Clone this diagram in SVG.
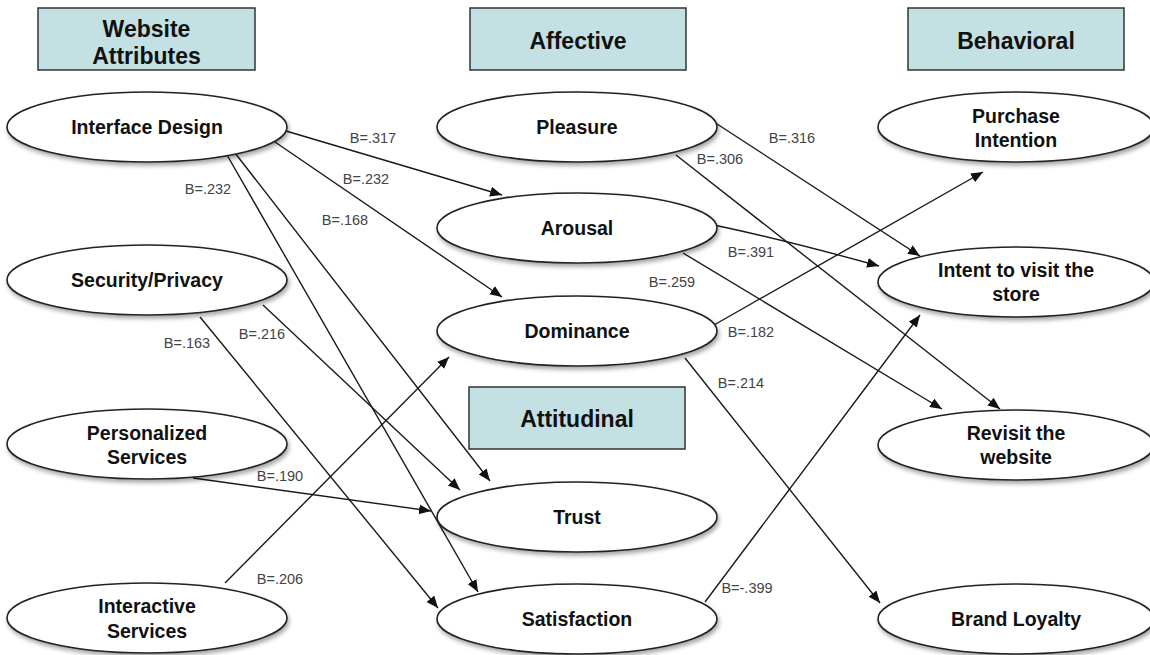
<svg xmlns="http://www.w3.org/2000/svg" width="1150" height="655" viewBox="0 0 1150 655">
<defs>
<filter id="sh" x="-10%" y="-20%" width="120%" height="150%">
<feDropShadow dx="1.5" dy="3" stdDeviation="2" flood-color="#000" flood-opacity="0.35"/>
</filter>
<marker id="arr" markerUnits="userSpaceOnUse" markerWidth="14" markerHeight="12" refX="12" refY="5" orient="auto">
<path d="M0,0 L12,5 L0,10 Z" fill="#111"/>
</marker>
<style>
.hdr{fill:#c3e0e3;stroke:#333;stroke-width:1.5}
.hdt{font-family:"Liberation Sans",Arial,sans-serif;font-weight:bold;font-size:23px;fill:#111;text-anchor:middle}
.el{fill:#fff;stroke:#222;stroke-width:1.6;filter:url(#sh)}
.nt{font-family:"Liberation Sans",Arial,sans-serif;font-weight:bold;font-size:19.5px;fill:#111;text-anchor:middle}
.cn{fill:none;stroke:#1a1a1a;stroke-width:1.4;marker-end:url(#arr)}
.lb{font-family:"Liberation Sans",Arial,sans-serif;font-size:14.5px;fill:#444;text-anchor:middle}
</style>
</defs>
<rect width="1150" height="655" fill="#fff"/>

<g id="hdr-website">
<rect class="hdr" x="38" y="8" width="217" height="62"/>
<text class="hdt" x="146.5" y="37">Website</text>
<text class="hdt" x="146.5" y="64">Attributes</text>
</g>
<g id="hdr-affective">
<rect class="hdr" x="470" y="8" width="216" height="62"/>
<text class="hdt" x="578" y="49">Affective</text>
</g>
<g id="hdr-behavioral">
<rect class="hdr" x="908" y="8" width="216" height="62"/>
<text class="hdt" x="1016" y="49">Behavioral</text>
</g>
<g id="hdr-attitudinal">
<rect class="hdr" x="469" y="387" width="216" height="62"/>
<text class="hdt" x="577" y="427">Attitudinal</text>
</g>

<g id="connectors">
<line class="cn" x1="286" y1="131" x2="502" y2="195"/>
<line class="cn" x1="275" y1="142" x2="502" y2="297"/>
<line class="cn" x1="235" y1="153" x2="490" y2="481"/>
<line class="cn" x1="227" y1="155" x2="478" y2="592"/>
<line class="cn" x1="263" y1="305" x2="460" y2="490"/>
<line class="cn" x1="200" y1="317" x2="438" y2="608"/>
<line class="cn" x1="193" y1="478" x2="431" y2="511"/>
<line class="cn" x1="225" y1="583" x2="449" y2="357"/>
<line class="cn" x1="714" y1="122" x2="920" y2="256"/>
<line class="cn" x1="676" y1="155" x2="1000" y2="409"/>
<path class="cn" d="M714,225 Q785,240 879,266"/>
<line class="cn" x1="683" y1="253" x2="942" y2="409"/>
<line class="cn" x1="714" y1="325" x2="983" y2="172"/>
<line class="cn" x1="685" y1="358" x2="880" y2="603"/>
<line class="cn" x1="705" y1="602" x2="920" y2="315"/>
<text class="lb" x="373" y="143">B=.317</text>
<text class="lb" x="366" y="184">B=.232</text>
<text class="lb" x="345" y="225">B=.168</text>
<text class="lb" x="208" y="194">B=.232</text>
<text class="lb" x="262" y="339">B=.216</text>
<text class="lb" x="187" y="348">B=.163</text>
<text class="lb" x="280" y="481">B=.190</text>
<text class="lb" x="280" y="584">B=.206</text>
<text class="lb" x="792" y="143">B=.316</text>
<text class="lb" x="720" y="164">B=.306</text>
<text class="lb" x="751" y="257">B=.391</text>
<text class="lb" x="672" y="287">B=.259</text>
<text class="lb" x="751" y="337">B=.182</text>
<text class="lb" x="741" y="388">B=.214</text>
<text class="lb" x="747" y="593">B=-.399</text>
</g>

<g id="n-interface">
<ellipse class="el" cx="147" cy="127" rx="140" ry="35"/>
<text class="nt" x="147" y="134">Interface Design</text>
</g>
<g id="n-security">
<ellipse class="el" cx="147" cy="280" rx="140" ry="35"/>
<text class="nt" x="147" y="287">Security/Privacy</text>
</g>
<g id="n-personalized">
<ellipse class="el" cx="147" cy="444" rx="140" ry="35"/>
<text class="nt" x="147" y="440">Personalized</text>
<text class="nt" x="147" y="464">Services</text>
</g>
<g id="n-interactive">
<ellipse class="el" cx="147" cy="618" rx="140" ry="35"/>
<text class="nt" x="147" y="613">Interactive</text>
<text class="nt" x="147" y="638">Services</text>
</g>
<g id="n-pleasure">
<ellipse class="el" cx="577" cy="127" rx="140" ry="35"/>
<text class="nt" x="577" y="134">Pleasure</text>
</g>
<g id="n-arousal">
<ellipse class="el" cx="577" cy="228" rx="140" ry="35"/>
<text class="nt" x="577" y="235">Arousal</text>
</g>
<g id="n-dominance">
<ellipse class="el" cx="577" cy="331" rx="140" ry="35"/>
<text class="nt" x="577" y="338">Dominance</text>
</g>
<g id="n-trust">
<ellipse class="el" cx="577" cy="517" rx="140" ry="35"/>
<text class="nt" x="577" y="524">Trust</text>
</g>
<g id="n-satisfaction">
<ellipse class="el" cx="577" cy="619" rx="140" ry="35"/>
<text class="nt" x="577" y="626">Satisfaction</text>
</g>
<g id="n-purchase">
<ellipse class="el" cx="1016" cy="127" rx="138" ry="35"/>
<text class="nt" x="1016" y="123">Purchase</text>
<text class="nt" x="1016" y="147">Intention</text>
</g>
<g id="n-intent">
<ellipse class="el" cx="1016" cy="282" rx="138" ry="35"/>
<text class="nt" x="1016" y="277">Intent to visit the</text>
<text class="nt" x="1016" y="301">store</text>
</g>
<g id="n-revisit">
<ellipse class="el" cx="1016" cy="445" rx="138" ry="35"/>
<text class="nt" x="1016" y="440">Revisit the</text>
<text class="nt" x="1016" y="464">website</text>
</g>
<g id="n-brand">
<ellipse class="el" cx="1016" cy="619" rx="138" ry="35"/>
<text class="nt" x="1016" y="626">Brand Loyalty</text>
</g>
</svg>
